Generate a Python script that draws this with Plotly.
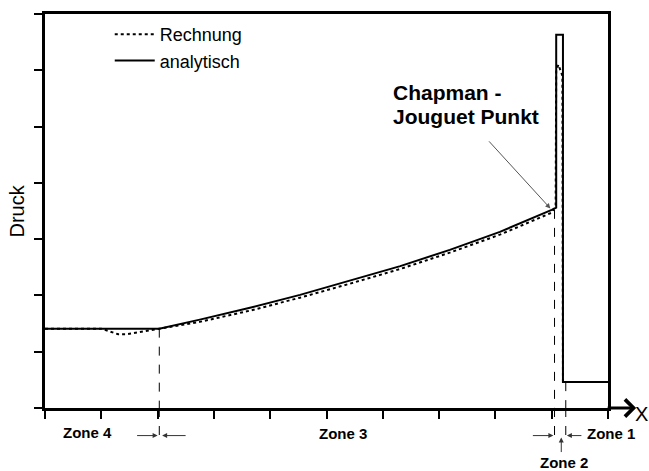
import plotly.graph_objects as go

# ---- data (x position along tube, pressure) ----
x_analytisch = [0, 2.03, 2.75, 3.64, 4.53, 5.42, 6.31, 7.19, 8.08, 9.0, 9.08, 9.08, 9.2, 9.2, 10.0]
y_analytisch = [1.41, 1.41, 1.57, 1.78, 2.01, 2.26, 2.52, 2.81, 3.13, 3.52, 3.56, 6.63, 6.63, 0.46, 0.46]

x_rechnung = [0, 1.0, 1.15, 1.3, 1.45, 1.75, 2.03, 2.75, 3.64, 4.53, 5.42, 6.31, 7.19, 8.08, 9.0, 9.07, 9.08, 9.12, 9.19, 9.2, 10.0]
y_rechnung = [1.41, 1.41, 1.36, 1.31, 1.31, 1.36, 1.41, 1.53, 1.73, 1.96, 2.21, 2.47, 2.76, 3.08, 3.47, 3.6, 6.0, 6.1, 5.9, 0.46, 0.46]

zone_bounds = [2.03, 9.05, 9.25]          # x of zone boundary markers
zone_bound_tops = [1.41, 3.52, 0.46]      # where the dashed markers start
cj_point = (9.0, 3.52)                    # Chapman-Jouguet point

zone_labels = ["Zone 4", "Zone 3", "Zone 2"]
zone_label_x = [0.75, 5.29, 9.22]

FONT = "Liberation Sans, Arial, sans-serif"

fig = go.Figure()
fig.add_trace(go.Scatter(x=x_rechnung, y=y_rechnung, mode="lines", name="Rechnung",
                         line=dict(color="black", width=2, dash="dot")))
fig.add_trace(go.Scatter(x=x_analytisch, y=y_analytisch, mode="lines", name="analytisch",
                         line=dict(color="black", width=2)))

shapes = []
ybot = -0.073
for xb, yt in zip(zone_bounds, zone_bound_tops):
    shapes.append(dict(type="line", xref="x", yref="y", x0=xb, x1=xb, y0=yt, y1=0,
                       line=dict(color="black", width=1, dash="dash")))
    shapes.append(dict(type="line", xref="x", yref="paper", x0=xb, x1=xb, y0=0, y1=ybot,
                       line=dict(color="black", width=1, dash="dash")))

annotations = []
ya = -0.07
arrow_kw = dict(showarrow=True, arrowhead=2, arrowsize=1, arrowwidth=1, arrowcolor="#333",
                text="", standoff=0, axref="pixel", ayref="pixel")
# zone 4 / 3 boundary arrows
annotations.append(dict(x=2.0, y=ya, xref="x", yref="paper", ax=-22, ay=0, **arrow_kw))
annotations.append(dict(x=2.08, y=ya, xref="x", yref="paper", ax=25, ay=0, **arrow_kw))
# zone 2 arrows
annotations.append(dict(x=9.03, y=ya, xref="x", yref="paper", ax=-22, ay=0, **arrow_kw))
annotations.append(dict(x=9.27, y=ya, xref="x", yref="paper", ax=16, ay=0, **arrow_kw))
annotations.append(dict(x=9.17, y=-0.075, xref="x", yref="paper", ax=0, ay=16, **arrow_kw))

# zone labels
label_y = [-0.063, -0.065, -0.139]
for t, lx, ly in zip(zone_labels, zone_label_x, label_y):
    annotations.append(dict(x=lx, y=ly, xref="x", yref="paper", text="<b>" + t + "</b>",
                            showarrow=False, font=dict(family=FONT, size=15, color="black"),
                            xanchor="center", yanchor="middle"))
# Zone 1 lies past the end of the x axis, so it is placed in paper coordinates
annotations.append(dict(x=1.0053, y=-0.065, xref="paper", yref="paper", text="<b>Zone 1</b>",
                        showarrow=False, font=dict(family=FONT, size=15, color="black"),
                        xanchor="center", yanchor="middle"))

# x axis arrow + label
annotations.append(dict(x=1.05, y=0, xref="paper", yref="paper", ax=-30, ay=0, axref="pixel",
                        ayref="pixel", text="", showarrow=True, arrowhead=4, arrowsize=1.1,
                        arrowwidth=3, arrowcolor="black", standoff=0))
annotations.append(dict(x=1.06, y=-0.015, xref="paper", yref="paper", text="X", showarrow=False,
                        font=dict(family=FONT, size=20, color="black"),
                        xanchor="center", yanchor="middle"))

# Chapman-Jouguet label and pointer
annotations.append(dict(x=6.15, y=0.8, xref="x", yref="paper", text="<b>Chapman -</b>",
                        showarrow=False, xanchor="left", yanchor="middle",
                        font=dict(family=FONT, size=21, color="black")))
annotations.append(dict(x=6.15, y=0.74, xref="x", yref="paper", text="<b>Jouguet Punkt</b>",
                        showarrow=False, xanchor="left", yanchor="middle",
                        font=dict(family=FONT, size=21, color="black")))
annotations.append(dict(x=cj_point[0], y=cj_point[1], xref="x", yref="y", ax=-64, ay=-70,
                        axref="pixel", ayref="pixel", text="", showarrow=True, arrowhead=2,
                        arrowsize=1, arrowwidth=1, arrowcolor="#555", standoff=2))

# y axis title
annotations.append(dict(x=-0.0506, y=0.5, xref="paper", yref="paper", text="Druck", textangle=-90,
                        showarrow=False, xanchor="center", yanchor="middle",
                        font=dict(family=FONT, size=20, color="black")))

fig.update_layout(
    width=649, height=471,
    margin=dict(l=45, r=41, t=11, b=63),
    paper_bgcolor="white", plot_bgcolor="white",
    font=dict(family=FONT, color="black"),
    shapes=shapes, annotations=annotations,
    showlegend=True,
    legend=dict(x=0.115, y=0.995, xanchor="left", yanchor="top", bgcolor="rgba(0,0,0,0)",
                font=dict(family=FONT, size=18, color="black"), tracegroupgap=0,
                itemwidth=40),
    xaxis=dict(range=[0, 10], dtick=1, tick0=0, showgrid=False, zeroline=False,
               showline=True, linewidth=3, linecolor="black", mirror=True,
               ticks="outside", ticklen=8, tickwidth=2, tickcolor="black",
               showticklabels=False),
    yaxis=dict(range=[0, 7], dtick=1, tick0=0, showgrid=False, zeroline=False,
               showline=True, linewidth=3, linecolor="black", mirror=True,
               ticks="outside", ticklen=8, tickwidth=2, tickcolor="black",
               showticklabels=False),
)

# remove the browser's default 8px page margin so the figure fills the window exactly
fig.write_html("out.html", config={"displayModeBar": False},
               post_script="document.body.style.margin='0px';document.body.style.overflow='hidden';")
